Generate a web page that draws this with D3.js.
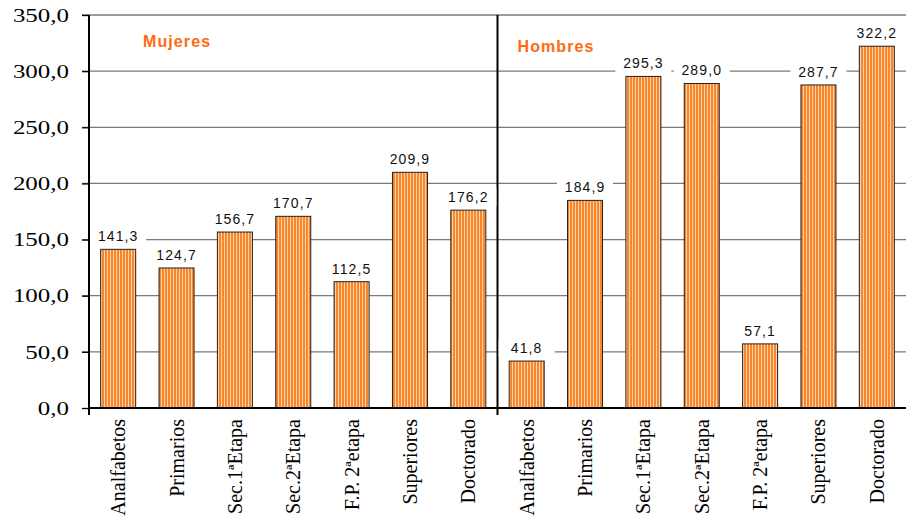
<!DOCTYPE html>
<html><head><meta charset="utf-8">
<script src="https://cdn.jsdelivr.net/npm/d3@7"></script>
<style>
body{margin:0;background:#fff}svg{display:block}
.serif{font-family:"Liberation Serif","Times New Roman",Times,serif !important;}
.sans{font-family:"Liberation Sans",Arial,Helvetica,sans-serif !important;}
</style>
</head><body>
<script>
const categories = ["Analfabetos","Primarios","Sec.1ªEtapa","Sec.2ªEtapa","F.P. 2ªetapa","Superiores","Doctorado"];
const groups = ["Mujeres","Hombres"];
const mujeres = [141.3,124.7,156.7,170.7,112.5,209.9,176.2];
const hombres = [41.8,184.9,295.3,289.0,57.1,287.7,322.2];
const yTicks = [0,50,100,150,200,250,300,350];

const W=906,H=527;
const m={l:89,r:0,t:15,b:119};
const svg=d3.select("body").append("svg").attr("width",W).attr("height",H);
const defs=svg.append("defs");
const pat=defs.append("pattern").attr("id","stripes").attr("patternUnits","userSpaceOnUse").attr("width",3).attr("height",10);
pat.append("rect").attr("width",3).attr("height",10).attr("fill","#ffd2a8");
pat.append("rect").attr("width",2).attr("height",10).attr("fill","#f7862c");

const data=[];
groups.forEach((g,gi)=>{const vals=gi===0?mujeres:hombres;categories.forEach((c,i)=>data.push({key:g+"-"+c,cat:c,group:g,v:vals[i]}));});

const x=d3.scaleBand().domain(data.map(d=>d.key)).range([m.l,W-m.r]).paddingInner(0.4).paddingOuter(0.2);
const y=d3.scaleLinear().domain([0,350]).range([H-m.b,m.t]);

// gridlines
svg.append("g").selectAll("line").data(yTicks.filter(t=>t>0)).join("line")
 .attr("x1",m.l-7).attr("x2",W).attr("y1",d=>y(d)).attr("y2",d=>y(d))
 .attr("stroke","#7a7a7a").attr("stroke-width",1.3);

// y axis
const ya=svg.append("g").attr("transform",`translate(${m.l},0)`).call(d3.axisLeft(y).tickValues(yTicks).tickSize(7).tickFormat(d=>d3.format(".1f")(d).replace(".",",")));
ya.attr("font-family",null).attr("font-size",null);
ya.select(".domain").attr("stroke","#000").attr("stroke-width",2).attr("d",`M0,${y(350)}V${y(0)+7}`);
ya.selectAll(".tick line").attr("stroke","#000").attr("stroke-width",1.3);
ya.selectAll(".tick text").attr("class","serif").attr("font-size",19.5).attr("fill","#000")
  .attr("x",0).attr("transform","translate(-20,0) scale(1.28,1)");

// bars
svg.append("g").selectAll("rect").data(data).join("rect")
 .attr("x",d=>x(d.key)).attr("width",x.bandwidth()).attr("y",d=>y(d.v)).attr("height",d=>y(0)-y(d.v))
 .attr("fill","url(#stripes)").attr("stroke","#222").attr("stroke-width",1);

// x axis
const step=x.step();
svg.append("line").attr("x1",m.l).attr("x2",W).attr("y1",y(0)).attr("y2",y(0)).attr("stroke","#000").attr("stroke-width",2.2);
// separator
const sepX=m.l+step*7;
svg.append("line").attr("x1",sepX).attr("x2",sepX).attr("y1",y(350)).attr("y2",y(0)+7).attr("stroke","#000").attr("stroke-width",2);

// value labels with white boxes
const lab=svg.append("g").selectAll("g").data(data).join("g")
 .attr("transform",d=>`translate(${x(d.key)+x.bandwidth()/2},${y(d.v)-8})`);
lab.append("rect").attr("x",-28).attr("y",-14).attr("width",56).attr("height",18).attr("fill","#fff");
lab.append("text").attr("class","sans").attr("text-anchor","middle").attr("font-size",14).attr("letter-spacing",1.1).attr("fill","#111")
 .text(d=>d3.format(".1f")(d.v).replace(".",","));

// category labels
svg.append("g").selectAll("text").data(data).join("text").attr("class","serif")
 .attr("transform",d=>`translate(${x(d.key)+x.bandwidth()/2+7},${y(0)+11}) rotate(-90)`)
 .attr("text-anchor","end").attr("font-size",20).attr("fill","#000")
 .text(d=>d.cat);

// group labels
const gl=[{t:groups[0],x:m.l+54,y:47},{t:groups[1],x:sepX+20,y:52}];
svg.append("g").selectAll("text").data(gl).join("text").attr("class","sans").attr("x",d=>d.x).attr("y",d=>d.y)
 .attr("font-weight","bold").attr("font-size",16).attr("letter-spacing",1.1).attr("fill","#ff6a10").text(d=>d.t);
</script>
</body></html>
